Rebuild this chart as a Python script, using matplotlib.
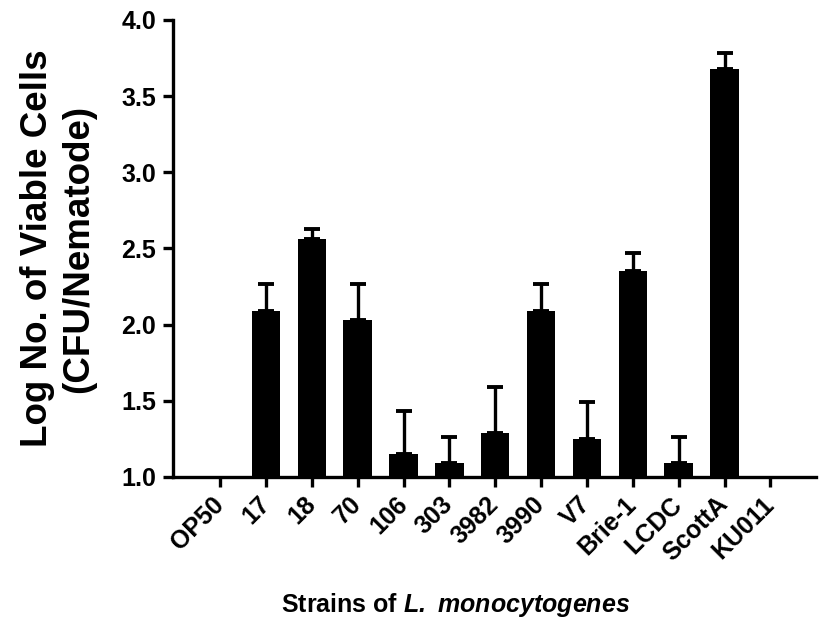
import matplotlib
matplotlib.use("Agg")
import matplotlib.pyplot as plt
import numpy as np

strains = ["OP50", "17", "18", "70", "106", "303", "3982", "3990", "V7",
           "Brie-1", "LCDC", "ScottA", "KU011"]
log_cells = [1.0, 2.09, 2.56, 2.03, 1.15, 1.09, 1.29, 2.09, 1.25, 2.35, 1.09, 3.68, 1.0]
sem_upper = [0.0, 0.18, 0.07, 0.24, 0.28, 0.17, 0.30, 0.18, 0.24, 0.12, 0.17, 0.10, 0.0]

plt.rcParams['font.family'] = ['Liberation Sans', 'DejaVu Sans']
plt.rcParams['font.weight'] = 'bold'
plt.rcParams['mathtext.fontset'] = 'custom'
plt.rcParams['mathtext.rm'] = 'Liberation Sans:bold'
plt.rcParams['mathtext.bf'] = 'Liberation Sans:bold'
plt.rcParams['mathtext.it'] = 'Liberation Sans:italic:bold'
plt.rcParams['mathtext.bfit'] = 'Liberation Sans:italic:bold'

fig = plt.figure(figsize=(8.27, 6.24), dpi=100)
ax = fig.add_axes([0.209, 0.2356, 0.778, 0.7324])

x = np.arange(len(strains))
vals = np.array(log_cells)
errs = np.array(sem_upper)
base = 1.0
ax.bar(x, vals - base, bottom=base, width=0.62, color='black', zorder=3)
mask = errs > 0
ax.errorbar(x[mask], vals[mask], yerr=[np.zeros(mask.sum()), errs[mask]],
            fmt='none', ecolor='black', elinewidth=2.4, capsize=6, capthick=2.8, zorder=2)

ax.set_ylim(1.0, 4.0)
ax.set_xlim(-1.03, 13.0)
ax.set_yticks([1.0, 1.5, 2.0, 2.5, 3.0, 3.5, 4.0])
ax.set_yticklabels(["1.0", "1.5", "2.0", "2.5", "3.0", "3.5", "4.0"], fontsize=18, fontweight='bold')
ax.set_xticks(x)
ax.set_xticklabels(strains, rotation=45, ha='right', va='center', rotation_mode='anchor',
                   fontsize=18, fontweight='bold')

for s in ['top', 'right']:
    ax.spines[s].set_visible(False)
for s in ['left', 'bottom']:
    ax.spines[s].set_linewidth(2.4)
ax.tick_params(axis='y', direction='out', length=7, width=2.4, pad=5)
ax.tick_params(axis='x', direction='out', length=7, width=2.4, pad=10)

ax.set_ylabel("Log No. of Viable Cells\n(CFU/Nematode)", fontsize=26.5, fontweight='bold',
              linespacing=1.25)
ax.yaxis.set_label_coords(-0.119, 0.5)
fig.text(0.551, 0.03, r"Strains of $\mathbfit{L.\ monocytogenes}$", ha='center', va='center',
         fontsize=18, fontweight='bold')

fig.savefig("out.png", dpi=100)
